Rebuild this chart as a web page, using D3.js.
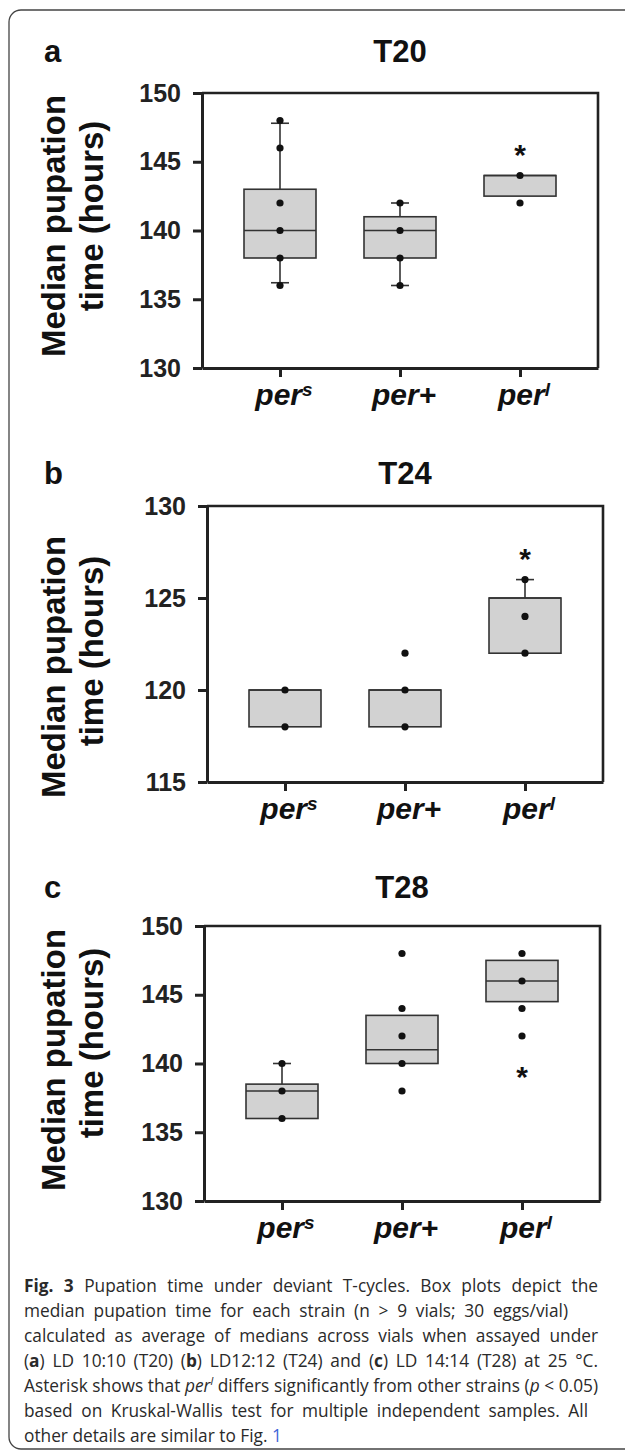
<!DOCTYPE html>
<html>
<head>
<meta charset="utf-8">
<script src="https://cdn.jsdelivr.net/npm/d3@7"></script>
<style>
  html, body { margin: 0; padding: 0; background: #fff; }
  svg { display: block; }
</style>
</head>
<body>
<svg id="chart" width="625" height="1451"></svg>
<script>
// ---------------- DATA ----------------
const categories = ["per^s", "per+", "per^l"];
const panelLetters = ["a", "b", "c"];
const panelTitles = ["T20", "T24", "T28"];
const yLabelLines = ["Median pupation", "time (hours)"];

const yDomainA = [130, 150], yDomainB = [115, 130], yDomainC = [130, 150];
const yTicksA = [130, 135, 140, 145, 150];
const yTicksB = [115, 120, 125, 130];
const yTicksC = [130, 135, 140, 145, 150];

// Panel a (T20)
const q1A = [138, 138, 142.5];
const medianA = [140, 140, 144];
const q3A = [143, 141, 144];
const whiskerLowA = [136.2, 136, null];
const whiskerHighA = [147.8, 142, null];
const pointsA = [[148, 146, 142, 140, 138, 136], [142, 140, 138, 136], [144, 142]];

// Panel b (T24)
const q1B = [118, 118, 122];
const medianB = [120, 120, 125];
const q3B = [120, 120, 125];
const whiskerLowB = [null, null, null];
const whiskerHighB = [null, null, 126];
const pointsB = [[120, 118], [122, 120, 118], [126, 124, 122]];

// Panel c (T28)
const q1C = [136, 140, 144.5];
const medianC = [138, 141, 146];
const q3C = [138.5, 143.5, 147.5];
const whiskerLowC = [null, null, null];
const whiskerHighC = [140, null, null];
const pointsC = [[140, 138, 136], [148, 144, 142, 140, 138], [148, 146, 144, 142]];

// Asterisk (significance) positions, on per^l
const asteriskValues = [146, 127.5, 139.5];

// Caption
const captionLines = [
  [{t: "Fig. 3", b: true}, {t: " Pupation time under deviant T-cycles. Box plots depict the"}],
  [{t: "median pupation time for each strain (n > 9 vials; 30 eggs/vial)"}],
  [{t: "calculated as average of medians across vials when assayed under"}],
  [{t: "("}, {t: "a", b: true}, {t: ") LD 10:10 (T20) ("}, {t: "b", b: true}, {t: ") LD12:12 (T24) and ("}, {t: "c", b: true}, {t: ") LD 14:14 (T28) at 25 °C."}],
  [{t: "Asterisk shows that "}, {t: "per", i: true}, {t: "l", i: true, sup: true}, {t: " differs significantly from other strains ("}, {t: "p", i: true}, {t: " < 0.05)"}],
  [{t: "based on Kruskal-Wallis test for multiple independent samples. All"}],
  [{t: "other details are similar to Fig. "}, {t: "1", link: true}]
];
const captionLineEnds = [598, 568, 598, 598, 598, 588, null];

// ---------------- LAYOUT ----------------
const panels = [
  {letter: panelLetters[0], title: panelTitles[0], dom: yDomainA, ticks: yTicksA, q1: q1A, med: medianA, q3: q3A, wl: whiskerLowA, wh: whiskerHighA, pts: pointsA, ast: asteriskValues[0],
   left: 202, top: 93, width: 396, height: 275, lab1: 226, lab2: 216, head: 62},
  {letter: panelLetters[1], title: panelTitles[1], dom: yDomainB, ticks: yTicksB, q1: q1B, med: medianB, q3: q3B, wl: whiskerLowB, wh: whiskerHighB, pts: pointsB, ast: asteriskValues[1],
   left: 207, top: 506, width: 396, height: 276, lab1: 667, lab2: 651, head: 484},
  {letter: panelLetters[2], title: panelTitles[2], dom: yDomainC, ticks: yTicksC, q1: q1C, med: medianC, q3: q3C, wl: whiskerLowC, wh: whiskerHighC, pts: pointsC, ast: asteriskValues[2],
   left: 204, top: 926, width: 396, height: 275, lab1: 1060, lab2: 1043, head: 898}
];

const FONT = "'Liberation Sans', Arial, Helvetica, sans-serif";
const svg = d3.select("#chart");

// outer frame (open on the right, as cropped)
svg.append("path")
  .attr("d", "M 640 10 H 21 A 12 12 0 0 0 9 22 V 1437 A 12 12 0 0 0 21 1449 H 640")
  .attr("fill", "none").attr("stroke", "#444").attr("stroke-width", 1.3);

panels.forEach(p => {
  const g = svg.append("g");
  const x = d3.scalePoint().domain(categories).range([p.left, p.left + p.width]).padding(0.65);
  const y = d3.scaleLinear().domain(p.dom).range([p.top + p.height, p.top]);
  const half = 36;

  // panel letter
  g.append("text").attr("x", 44).attr("y", p.head)
    .attr("font-family", FONT).attr("font-weight", "bold").attr("font-size", 31)
    .attr("fill", "#111").text(p.letter);
  // title
  g.append("text").attr("x", p.left + p.width / 2).attr("y", p.head)
    .attr("text-anchor", "middle")
    .attr("font-family", FONT).attr("font-weight", "bold").attr("font-size", 31)
    .attr("fill", "#111").text(p.title);

  // y label
  [[yLabelLines[0], 65, p.lab1], [yLabelLines[1], 103, p.lab2]].forEach(([txt, bx, cy]) => {
    g.append("text")
      .attr("transform", `translate(${bx},${cy}) rotate(-90)`)
      .attr("text-anchor", "middle")
      .attr("font-family", FONT).attr("font-weight", "bold").attr("font-size", 33)
      .attr("fill", "#111").text(txt);
  });

  // frame top & right
  g.append("path")
    .attr("d", `M${p.left},${p.top} H${p.left + p.width} V${p.top + p.height}`)
    .attr("fill", "none").attr("stroke", "#222").attr("stroke-width", 2.6);

  // y axis
  const ya = g.append("g").attr("transform", `translate(${p.left},0)`)
    .call(d3.axisLeft(y).tickValues(p.ticks).tickSize(9).tickSizeOuter(0).tickPadding(12).tickFormat(d3.format("d")));
  ya.select(".domain").attr("stroke", "#222").attr("stroke-width", 3);
  ya.selectAll(".tick line").attr("stroke", "#222").attr("stroke-width", 3);
  ya.selectAll(".tick text").attr("font-family", FONT).attr("font-weight", "bold")
    .attr("font-size", 25).attr("fill", "#222");

  // x axis
  const xa = g.append("g").attr("transform", `translate(0,${p.top + p.height})`)
    .call(d3.axisBottom(x).tickSize(9).tickSizeOuter(0).tickFormat(""));
  xa.select(".domain").attr("stroke", "#222").attr("stroke-width", 3);
  xa.selectAll(".tick line").attr("stroke", "#222").attr("stroke-width", 3);

  // x labels
  categories.forEach(c => {
    const [base, sup] = c.includes("^") ? c.split("^") : [c, null];
    const t = g.append("text").attr("x", x(c) + 4).attr("y", p.top + p.height + 37)
      .attr("text-anchor", "middle")
      .attr("font-family", FONT).attr("font-weight", "bold").attr("font-style", "italic")
      .attr("font-size", 30).attr("fill", "#111");
    t.append("tspan").text(base);
    if (sup) t.append("tspan").attr("dy", -9).attr("font-size", 19).text(sup);
  });

  // boxes
  categories.forEach((c, i) => {
    const cx = x(c);
    const bg = g.append("g");
    if (p.wh[i] != null) {
      bg.append("line").attr("x1", cx).attr("x2", cx).attr("y1", y(p.q3[i])).attr("y2", y(p.wh[i]))
        .attr("stroke", "#333").attr("stroke-width", 1.6);
      bg.append("line").attr("x1", cx - 9).attr("x2", cx + 9).attr("y1", y(p.wh[i])).attr("y2", y(p.wh[i]))
        .attr("stroke", "#333").attr("stroke-width", 1.6);
    }
    if (p.wl[i] != null) {
      bg.append("line").attr("x1", cx).attr("x2", cx).attr("y1", y(p.q1[i])).attr("y2", y(p.wl[i]))
        .attr("stroke", "#333").attr("stroke-width", 1.6);
      bg.append("line").attr("x1", cx - 9).attr("x2", cx + 9).attr("y1", y(p.wl[i])).attr("y2", y(p.wl[i]))
        .attr("stroke", "#333").attr("stroke-width", 1.6);
    }
    bg.append("rect").attr("x", cx - half).attr("width", half * 2)
      .attr("y", y(p.q3[i])).attr("height", y(p.q1[i]) - y(p.q3[i]))
      .attr("fill", "#d2d2d2").attr("stroke", "#333").attr("stroke-width", 1.6);
    bg.append("line").attr("x1", cx - half).attr("x2", cx + half)
      .attr("y1", y(p.med[i])).attr("y2", y(p.med[i]))
      .attr("stroke", "#333").attr("stroke-width", 1.6);
    bg.selectAll("circle").data(p.pts[i]).join("circle")
      .attr("cx", cx).attr("cy", d => y(d)).attr("r", 3.6).attr("fill", "#111");
  });

  // asterisk on per^l
  g.append("text").attr("x", x(categories[2])).attr("y", y(p.ast) + 17)
    .attr("text-anchor", "middle")
    .attr("font-family", FONT).attr("font-weight", "bold").attr("font-size", 30)
    .attr("fill", "#111").text("*");
});

// caption (justified lines via word spacing)
const cap = svg.append("g");
const capX = 24;
captionLines.forEach((line, li) => {
  const t = cap.append("text").attr("x", capX).attr("y", 1292 + li * 25)
    .attr("font-family", "'Open Sans', 'Noto Sans', sans-serif").attr("font-size", 17.3)
    .attr("fill", "#2a2a2a");
  line.forEach((seg, si) => {
    const s = t.append("tspan").text(seg.t);
    if (seg.b) s.attr("font-weight", "bold");
    if (seg.i) s.attr("font-style", "italic");
    if (seg.link) s.attr("fill", "#3d64d8");
    if (seg.sup) s.attr("dy", -7).attr("font-size", 11);
    else if (si > 0 && line[si - 1].sup) s.attr("dy", 7);
  });
  const target = captionLineEnds[li];
  if (target != null) {
    const natural = t.node().getComputedTextLength();
    const spaces = line.map(s => s.t).join("").split(" ").length - 1;
    if (spaces > 0) t.style("word-spacing", ((target - capX - natural) / spaces) + "px");
  }
});
</script>
</body>
</html>
